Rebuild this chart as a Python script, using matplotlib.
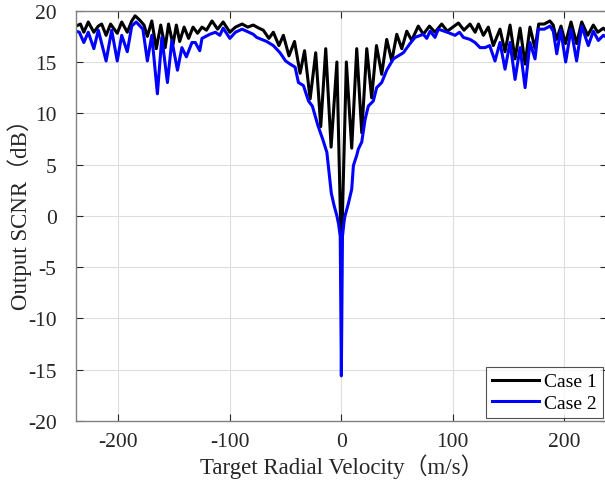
import matplotlib
matplotlib.use("Agg")
import matplotlib.pyplot as plt

plt.rcParams['font.family'] = ['Liberation Serif', 'Noto Sans CJK SC', 'DejaVu Sans']
plt.rcParams['axes.unicode_minus'] = False

# ---- data ----
case1_v = [-238, -234, -231, -227, -222, -218, -215, -211, -207, -201, -197, -192, -188, -185, -181, -177,
           -174, -170, -166, -162, -158, -155, -151, -148, -145, -141, -137, -133, -129, -125, -121, -116,
           -111, -106, -100, -95, -89, -84, -79, -74, -70, -65, -61, -56, -52, -47, -42, -37, -33, -28, -23,
           -18.5, -14, -9.2, -4, 0, 4.5, 9.3, 13.8, 18.3, 22.8, 27.2, 31.5, 36.2, 40.7, 45.2, 49.7, 54.2,
           58.7, 63.1, 69, 73.5, 79, 84, 90, 95, 100, 105, 110, 115.4, 120, 123, 127.4, 131.8, 136.3, 142.3,
           146.8, 151.3, 155.8, 160.3, 164.8, 169.2, 173.7, 177, 182, 187, 190, 193, 197, 201, 206, 211,
           215.6, 221, 226, 230, 235, 238]
case1_snr = [18.5, 18.7, 17.9, 18.9, 17.9, 18.5, 18.7, 17.6, 18.7, 17.8, 18.9, 17.9, 19.0, 19.5, 19.1, 18.6,
             17.5, 19.0, 16.3, 18.6, 16.4, 18.7, 16.7, 18.6, 17.0, 18.4, 17.3, 18.4, 17.8, 18.4, 18.1, 19.0,
             18.2, 18.9, 17.9, 18.4, 18.7, 18.4, 18.6, 18.3, 18.1, 17.3, 17.9, 16.6, 17.6, 15.6, 17.0, 13.9,
             16.1, 11.4, 15.9, 8.7, 16.3, 6.7, 15.0, -4.0, 15.0, 6.6, 16.3, 8.1, 16.3, 11.5, 16.6, 13.8, 17.2,
             15.1, 17.7, 16.3, 18.0, 17.1, 18.5, 17.7, 18.5, 17.9, 18.7, 18.0, 18.4, 18.8, 18.1, 18.7, 17.9,
             18.7, 17.6, 18.4, 16.6, 18.2, 16.0, 18.6, 15.3, 18.3, 14.8, 18.4, 16.3, 18.7, 18.7, 19.0, 18.6,
             17.2, 18.5, 16.8, 18.9, 16.8, 18.9, 17.6, 18.6, 17.9, 18.3, 18.0]

case2_v = [-238, -235, -231, -227, -222, -218, -211, -206, -201, -197, -192, -188, -184, -178, -174, -170,
           -165, -161, -156, -152, -147, -143, -139, -134, -131, -127, -125, -118, -113, -109, -106, -100,
           -95, -89, -79, -76, -67, -61, -55, -50, -46, -41.5, -38.5, -34, -29.5, -26, -21, -16.5, -13, -11,
           -9, -6.5, -4, -2.5, -1, 0, 1, 2.5, 3.3, 6.3, 9.3, 10.8, 13.8, 15.2, 18.3, 21.3, 24.2, 28.7, 31.7,
           36.2, 40.7, 46.6, 51.1, 55.6, 61.6, 66.1, 73.5, 76.6, 79.6, 84, 87, 95, 102, 106, 109.4, 115.4,
           119.9, 124.4, 128.9, 133, 137.8, 142.3, 146.8, 151.3, 155.8, 160.3, 164.8, 169.2, 173.7, 176.7,
           182, 187.2, 190.1, 193.2, 196.8, 201.2, 206, 211, 215.6, 221.5, 226, 230.5, 235, 238]
case2_snr = [18.0, 17.9, 16.9, 17.9, 16.3, 18.1, 15.1, 18.1, 15.1, 17.6, 16.0, 18.5, 18.9, 18.2, 15.1, 17.6,
             11.9, 17.4, 13.0, 17.1, 14.2, 16.4, 15.5, 16.9, 16.9, 16.1, 17.3, 17.7, 17.9, 17.6, 18.3, 17.3,
             17.9, 18.2, 17.7, 17.4, 17.0, 16.6, 15.9, 15.1, 14.8, 14.5, 13.0, 12.7, 11.2, 10.7, 8.8, 7.4, 6.2,
             4.2, 2.2, 1.0, 0.0, -0.8, -2.0, -15.6, -2.0, -0.5, 0.0, 1.2, 2.6, 4.9, 5.9, 6.5, 7.2, 9.4, 10.7,
             11.2, 12.5, 13.0, 14.2, 15.3, 15.6, 15.9, 16.8, 17.4, 17.7, 17.3, 18.0, 17.4, 18.2, 17.9, 17.6,
             17.9, 17.4, 17.2, 16.9, 16.4, 16.4, 16.6, 15.1, 16.9, 14.3, 16.9, 13.3, 16.4, 12.5, 16.9, 15.3,
             18.2, 18.2, 18.5, 18.0, 15.8, 18.1, 15.0, 18.2, 15.1, 18.5, 16.6, 18.0, 17.1, 17.6, 17.4]

x_ticks = [-200, -100, 0, 100, 200]
y_ticks = [-20, -15, -10, -5, 0, 5, 10, 15, 20]

fig = plt.figure(figsize=(6.05, 4.81), dpi=100)
ax = fig.add_axes([76/605, 1 - 422/481, (606.7 - 76)/605, (422 - 11.7)/481])

ax.plot(case1_v, case1_snr, color='black', lw=2.2, label='Case 1')
ax.plot(case2_v, case2_snr, color='#0000FF', lw=2.2, label='Case 2')

ax.set_xlim(-238, 238)
ax.set_ylim(-20, 20)
ax.set_xticks(x_ticks)
ax.set_yticks(y_ticks)
ax.set_xticklabels([str(t) for t in x_ticks])
ax.set_yticklabels([str(t) for t in y_ticks])
ax.grid(True, color='#DEDEDE', lw=0.8)
ax.set_axisbelow(True)
ax.tick_params(direction='in', length=5, width=0.8, colors='#262626', labelsize=15.5,
               top=True, right=True)
ax.tick_params(axis='x', pad=8)
ax.tick_params(axis='y', pad=14)
for s in ax.spines.values():
    s.set_color('#808080')
    s.set_linewidth(1.0)

ax.set_xlabel('Target Radial Velocity（m/s）', fontsize=16.5, color='#262626')
ax.set_ylabel('Output SCNR（dB）', fontsize=16.5, color='#262626')
ax.xaxis.set_label_coords(0.5, -0.08)
ax.yaxis.set_label_coords(-0.083, 0.52)

leg = ax.legend(loc='lower right', fontsize=14, frameon=True, fancybox=False, edgecolor='#262626',
                handlelength=2.4, borderpad=0.3, labelspacing=0.2, handletextpad=0.3,
                bbox_to_anchor=((603 - 76)/530.7, 0.008), borderaxespad=0)
leg.get_frame().set_linewidth(0.8)

fig.savefig('out.png', dpi=100)
